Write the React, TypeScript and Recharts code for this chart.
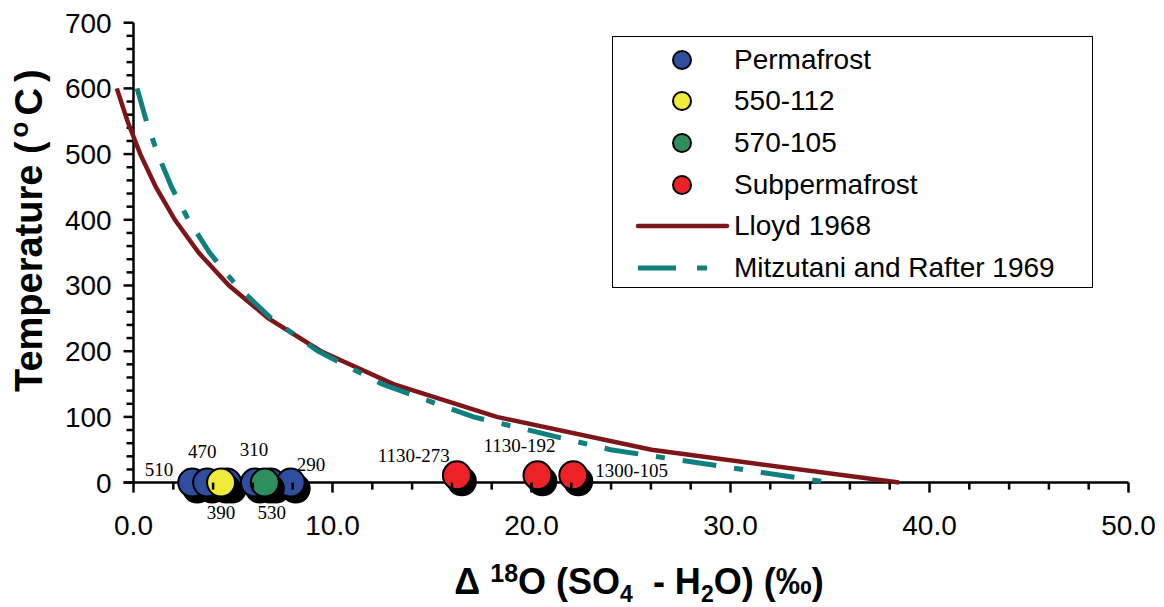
import React from 'react';
import { ComposedChart, Scatter, Line, XAxis, YAxis, ReferenceLine, Legend } from 'recharts';

// sample points: Δ18O (SO4 - H2O) vs temperature
const permafrost = [
  { x: 2.95, y: 0, label: '510' },
  { x: 3.7, y: 0, label: '470' },
  { x: 4.7, y: 0, label: '390' },
  { x: 6.1, y: 0, label: '310' },
  { x: 6.9, y: 0, label: '530' },
  { x: 7.9, y: 0, label: '290' },
];
const well550 = [{ x: 4.4, y: 0, label: '' }];
const well570 = [{ x: 6.6, y: 0, label: '' }];
const subpermafrost = [
  { x: 16.25, y: 11, label: '1130-273' },
  { x: 20.3, y: 11, label: '1130-192' },
  { x: 22.1, y: 11, label: '1300-105' },
];

// fractionation curves
const lloyd1968 = [
  { x: -0.84, y: 600 }, { x: -0.3, y: 550 }, { x: 0.34, y: 500 }, { x: 1.12, y: 450 },
  { x: 2.08, y: 400 }, { x: 3.27, y: 350 }, { x: 4.8, y: 300 }, { x: 6.78, y: 250 },
  { x: 9.42, y: 200 }, { x: 13.06, y: 150 }, { x: 18.25, y: 100 }, { x: 26.03, y: 50 },
  { x: 38.47, y: 0 },
];
const mitzutani1969 = [
  { x: 0.18, y: 600 }, { x: 0.65, y: 550 }, { x: 1.22, y: 500 }, { x: 1.91, y: 450 },
  { x: 2.76, y: 400 }, { x: 3.82, y: 350 }, { x: 5.17, y: 300 }, { x: 6.92, y: 250 },
  { x: 9.27, y: 200 }, { x: 12.48, y: 150 }, { x: 17.08, y: 100 }, { x: 23.98, y: 50 },
  { x: 35.0, y: 0 },
];

// axis ticks
const xTicks = [0, 2, 4, 6, 8, 10, 12, 14, 16, 18, 20, 22, 24, 26, 28, 30, 32, 34, 36, 38, 40, 42, 44, 46, 48, 50];
const yTicks = [0, 100, 200, 300, 400, 500, 600, 700];
const yMinorTicks = [20, 40, 60, 80, 120, 140, 160, 180, 220, 240, 260, 280, 320, 340, 360, 380,
  420, 440, 460, 480, 520, 540, 560, 580, 620, 640, 660, 680];

const SANS = '"Liberation Sans", Arial, sans-serif';
const SERIF = '"Liberation Serif", "Times New Roman", serif';

const BLUE = '#2F4E9F';
const YELLOW = '#F0EB3B';
const GREEN = '#2E8F5E';
const RED = '#EC2227';
const LLOYD = '#7E1518';
const TEAL = '#0F7F7F';
const DASH = '34 18 9 18';

// where each sample label sits relative to its point
const labelPlacement: Record<string, { dx: number; dy: number; anchor: string }> = {
  '510': { dx: -19, dy: -7, anchor: 'end' },
  '470': { dx: -5, dy: -25, anchor: 'middle' },
  '390': { dx: -6, dy: 36, anchor: 'middle' },
  '310': { dx: -1, dy: -27, anchor: 'middle' },
  '530': { dx: 1, dy: 36, anchor: 'middle' },
  '290': { dx: 6, dy: -12, anchor: 'start' },
  '1130-273': { dx: -7, dy: -13, anchor: 'end' },
  '1130-192': { dx: -18, dy: -23, anchor: 'middle' },
  '1300-105': { dx: 22, dy: 2, anchor: 'start' },
};

const legendItems = [
  { name: 'Permafrost', kind: 'dot', color: BLUE },
  { name: '550-112', kind: 'dot', color: YELLOW },
  { name: '570-105', kind: 'dot', color: GREEN },
  { name: 'Subpermafrost', kind: 'dot', color: RED },
  { name: 'Lloyd 1968', kind: 'line', color: LLOYD },
  { name: 'Mitzutani and Rafter 1969', kind: 'dash', color: TEAL },
];

// circle with a drop shadow, plus its sample label
const PointShape = (props: any) => {
  const { cx, cy, fill, payload } = props;
  const place = payload && payload.label ? labelPlacement[payload.label] : null;
  return (
    <g>
      <circle cx={cx + 5} cy={cy + 6} r={15} fill="#000" />
      <circle cx={cx} cy={cy} r={14} fill={fill} stroke="#000" strokeWidth={2} />
      {place && (
        <text x={cx + place.dx} y={cy + place.dy} textAnchor={place.anchor as any}
          fontFamily={SERIF} fontSize={19} fill="#000">
          {payload.label}
        </text>
      )}
    </g>
  );
};

const XTick = (props: any) => {
  const { x, y, payload } = props;
  const major = payload.value % 10 === 0;
  return (
    <g>
      <line x1={x} x2={x} y1={y} y2={y + (major ? 10 : 7)} stroke="#000" strokeWidth={2.5} />
      {major && (
        <text x={x} y={y + 52} textAnchor="middle" fontFamily={SANS} fontSize={28} fill="#000">
          {payload.value.toFixed(1)}
        </text>
      )}
    </g>
  );
};

const LegendBox = () => (
  <div style={{
    width: 481, height: 252, boxSizing: 'border-box', border: '1.5px solid #000',
    background: '#fff', paddingTop: 2, fontFamily: SANS,
  }}>
    {legendItems.map((it) => (
      <div key={it.name} style={{ height: 41.6, display: 'flex', alignItems: 'center' }}>
        <svg width={121} height={20} style={{ display: 'block', flex: 'none' }}>
          {it.kind === 'dot' && <circle cx={69} cy={10} r={9} fill={it.color} stroke="#000" strokeWidth={2} />}
          {it.kind === 'line' && <line x1={25} x2={114} y1={10} y2={10} stroke={it.color} strokeWidth={4.5} strokeLinecap="round" />}
          {it.kind === 'dash' && (
            <line x1={25} x2={96} y1={10} y2={10} stroke={it.color} strokeWidth={5} strokeDasharray="38 21 10 21" />
          )}
        </svg>
        <span style={{ fontSize: 28, lineHeight: '28px', color: '#000' }}>{it.name}</span>
      </div>
    ))}
  </div>
);

export default function App() {
  return (
    <div style={{ position: 'absolute', left: 0, top: 0, width: 1164, height: 607, background: '#fff' }}>
      <ComposedChart width={1164} height={607} margin={{ top: 22.7, right: 35.5, left: 0, bottom: 64.4 }}>
        <XAxis
          type="number"
          dataKey="x"
          domain={[-1, 50]}
          ticks={xTicks}
          interval={0}
          axisLine={false}
          tickLine={false}
          tickSize={0}
          tickMargin={0}
          height={60}
          tick={<XTick />}
          label={{
            content: () => (
              <text x={639} y={594} textAnchor="middle" fontFamily={SANS} fontWeight="bold"
                fontSize={36} fill="#000" style={{ whiteSpace: 'pre' }}>
                {'Δ '}
                <tspan dy={-12} fontSize={25}>18</tspan>
                <tspan dy={12}>O (SO</tspan>
                <tspan dy={8} fontSize={23}>4</tspan>
                <tspan dy={-8}>{'  - H'}</tspan>
                <tspan dy={8} fontSize={23}>2</tspan>
                <tspan dy={-8}>O) (‰)</tspan>
              </text>
            ),
          }}
        />
        <YAxis
          type="number"
          dataKey="y"
          domain={[0, 700]}
          ticks={yTicks}
          interval={0}
          axisLine={false}
          tickLine={false}
          tickSize={0}
          tickMargin={2}
          width={113.6}
          tick={{ fill: '#000', fontSize: 28, fontFamily: SANS }}
          label={{
            content: () => (
              <text x={42} y={392} transform="rotate(-90, 42, 392)" textAnchor="start"
                fontFamily={SANS} fontWeight="bold" fontSize={38} fill="#000">
                {'Temperature ('}
                <tspan dx={4} dy={-14} fontSize={26}>o</tspan>
                <tspan dx={6} dy={14}>C</tspan>
                <tspan dx={6}>)</tspan>
              </text>
            ),
          }}
        />

        {/* axis lines and tick marks */}
        <ReferenceLine segment={[{ x: -0.5, y: 0 }, { x: 50, y: 0 }]} stroke="#000" strokeWidth={2.5} />
        <ReferenceLine segment={[{ x: 0, y: 0 }, { x: 0, y: 700 }]} stroke="#000" strokeWidth={2.5} />
        {yTicks.map((t) => (
          <ReferenceLine key={'yt' + t} segment={[{ x: -0.5, y: t }, { x: 0, y: t }]} stroke="#000" strokeWidth={2.5} />
        ))}
        {yMinorTicks.map((t) => (
          <ReferenceLine key={'ym' + t} segment={[{ x: -0.35, y: t }, { x: 0, y: t }]} stroke="#000" strokeWidth={2.5} />
        ))}

        <Line data={lloyd1968} dataKey="y" type="linear" stroke={LLOYD} strokeWidth={4.5}
          dot={false} activeDot={false} isAnimationActive={false} legendType="none" />
        <Line data={mitzutani1969} dataKey="y" type="linear" stroke={TEAL} strokeWidth={5}
          strokeDasharray={DASH} dot={false} activeDot={false} isAnimationActive={false} legendType="none" />

        <Scatter data={permafrost} dataKey="y" fill={BLUE} shape={PointShape} isAnimationActive={false} />
        <Scatter data={well550} dataKey="y" fill={YELLOW} shape={PointShape} isAnimationActive={false} />
        <Scatter data={well570} dataKey="y" fill={GREEN} shape={PointShape} isAnimationActive={false} />
        <Scatter data={subpermafrost} dataKey="y" fill={RED} shape={PointShape} isAnimationActive={false} />

        <Legend
          layout="vertical"
          align="center"
          verticalAlign="middle"
          content={() => <LegendBox />}
          wrapperStyle={{ left: 612, top: 36, width: 481, height: 252 }}
        />
      </ComposedChart>
    </div>
  );
}
